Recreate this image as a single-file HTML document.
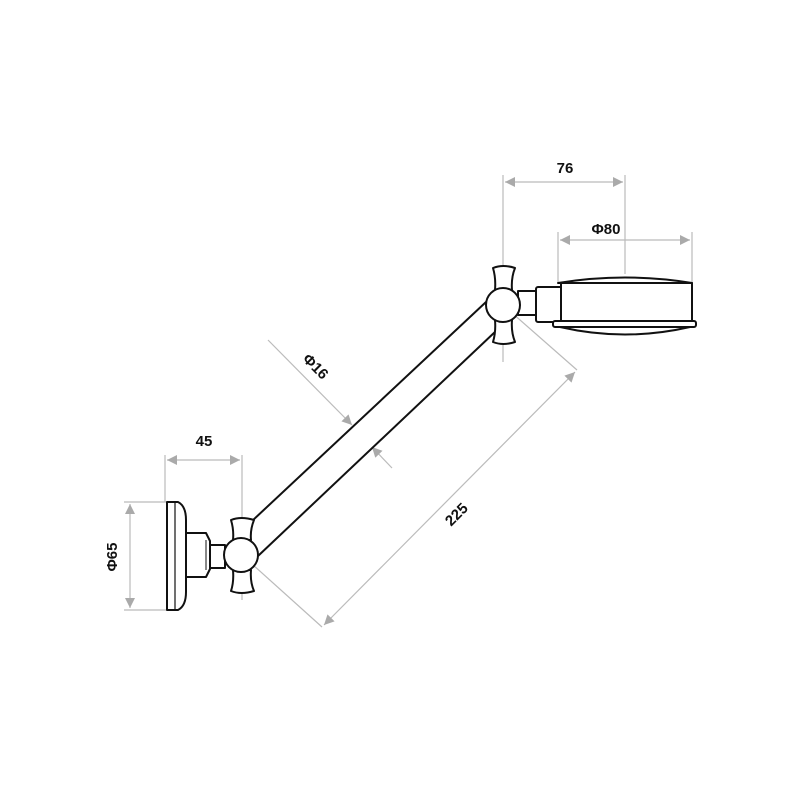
<!DOCTYPE html>
<html><head><style>body{margin:0;background:#fff}svg{display:block}</style></head>
<body>
<svg width="800" height="800" viewBox="0 0 800 800" xmlns="http://www.w3.org/2000/svg">
<defs>
<marker id="a" viewBox="0 0 10 10" refX="10" refY="5" markerWidth="13" markerHeight="10" markerUnits="userSpaceOnUse" orient="auto-start-reverse"><path d="M0,0 L10,5 L0,10 z" fill="#aaa"/></marker>
</defs>
<g stroke="#bbb" stroke-width="1.2" fill="none">
<!-- 76 -->
<line x1="503" y1="175" x2="503" y2="362"/>
<line x1="625" y1="175" x2="625" y2="274"/>
<line x1="505" y1="182" x2="623" y2="182" marker-start="url(#a)" marker-end="url(#a)"/>
<!-- Φ80 -->
<line x1="558" y1="232" x2="558" y2="283"/>
<line x1="692" y1="232" x2="692" y2="283"/>
<line x1="560" y1="240" x2="690" y2="240" marker-start="url(#a)" marker-end="url(#a)"/>
<!-- 45 -->
<line x1="165" y1="455" x2="165" y2="502"/>
<line x1="242" y1="455" x2="242" y2="600"/>
<line x1="167" y1="460" x2="240" y2="460" marker-start="url(#a)" marker-end="url(#a)"/>
<!-- Φ65 -->
<line x1="124" y1="502" x2="167" y2="502"/>
<line x1="124" y1="610" x2="167" y2="610"/>
<line x1="130" y1="504" x2="130" y2="608" marker-start="url(#a)" marker-end="url(#a)"/>
<!-- 225 -->
<line x1="242" y1="555" x2="322" y2="627"/>
<line x1="503" y1="305" x2="577" y2="370"/>
<line x1="324" y1="625" x2="575" y2="372" marker-start="url(#a)" marker-end="url(#a)"/>
<!-- Φ16 -->
<line x1="268" y1="340" x2="352" y2="425" marker-end="url(#a)"/>
<line x1="392" y1="468" x2="372" y2="447" marker-end="url(#a)"/>
</g>
<g stroke="#111" stroke-width="2" fill="#fff" stroke-linejoin="round">
<!-- arm -->
<line x1="252" y1="521" x2="486" y2="302"/>
<line x1="258" y1="556" x2="496" y2="331"/>
<!-- left flange -->
<path d="M167,502 L178,502 Q186,506 186,520 L186,592 Q186,606 178,610 L167,610 Z"/>
<line x1="175" y1="503" x2="175" y2="609" stroke-width="1.2"/>
<path d="M186,533 L206,533 L210,541 L210,569 L206,577 L186,577 Z"/>
<line x1="206" y1="540" x2="206" y2="570" stroke-width="1"/>
<rect x="210" y="545" width="15" height="23"/>
<!-- left knob wings -->
<path d="M231,520 Q241,516 254,520 Q250,530 251,540 L233,540 Q234,530 231,520 Z"/>
<path d="M233,570 L251,570 Q250,582 254,591 Q241,595 231,591 Q234,582 233,570 Z"/>
<circle cx="241" cy="555" r="17"/>
<!-- right knob -->
<rect x="518" y="291" width="20" height="24"/>
<path d="M493,268 Q503,264 515,268 Q511,278 512,290 L495,290 Q496,278 493,268 Z"/>
<path d="M495,320 L512,320 Q511,332 515,342 Q503,346 493,342 Q496,332 495,320 Z"/>
<circle cx="503" cy="305" r="17"/>
<!-- head -->
<path d="M558,283 Q625,272 692,283 Z"/>
<rect x="536" y="287" width="26" height="35" rx="2"/>
<rect x="561" y="283" width="131" height="40"/>
<path d="M560,327 Q625,342 690,327 Z"/>
<rect x="553" y="321" width="143" height="6" rx="2"/>
</g>
<g font-family="Liberation Sans, sans-serif" font-weight="bold" font-size="15" fill="#111" text-anchor="middle">
<text x="565" y="173">76</text>
<text x="606" y="234">Φ80</text>
<text x="204" y="446">45</text>
<text transform="translate(117,557) rotate(-90)">Φ65</text>
<text transform="translate(312,370) rotate(45)">Φ16</text>
<text transform="translate(460,518) rotate(-45)">225</text>
</g>
</svg>
</body></html>
